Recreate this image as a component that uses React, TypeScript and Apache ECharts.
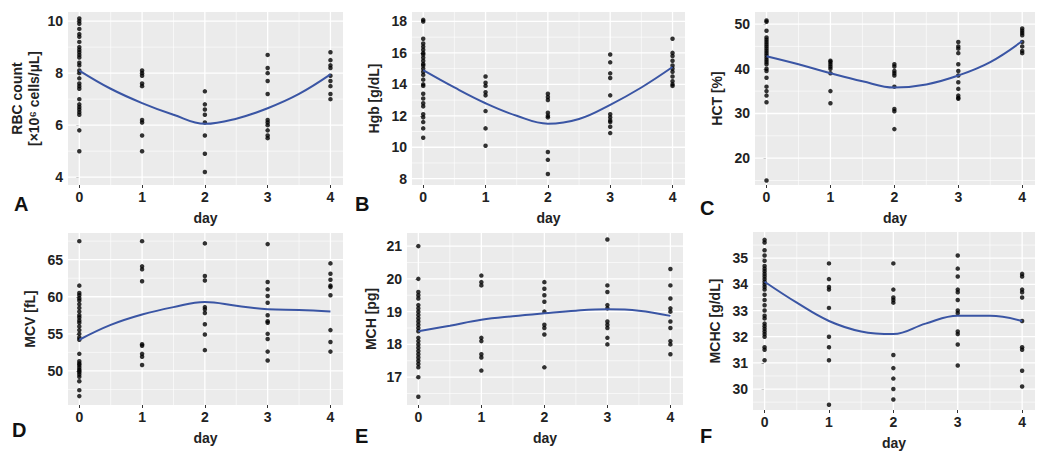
import * as echarts from 'echarts';
import React, { useEffect, useRef } from 'react';

const days = [0, 1, 2, 3, 4];
const curveDays = [0, 0.5, 1, 1.5, 2, 2.5, 3, 3.5, 4];

// A: RBC count
const rbc = [
  [10.1, 10.0, 9.9, 9.7, 9.5, 9.4, 9.2, 9.0, 8.9, 8.8, 8.7, 8.6, 8.4, 8.3, 8.1, 8.0, 7.8, 7.6, 7.5, 7.4, 7.0, 6.8, 6.7, 6.6, 6.5, 6.4, 5.8, 5.0],
  [8.1, 8.0, 7.9, 7.6, 7.5, 6.2, 6.1, 5.6, 5.0],
  [7.3, 6.8, 6.6, 6.4, 6.1, 5.6, 4.9, 4.2],
  [8.7, 8.2, 8.0, 7.7, 7.2, 6.2, 6.1, 6.0, 5.8, 5.6, 5.5],
  [8.8, 8.5, 8.3, 8.2, 7.9, 7.7, 7.5, 7.2, 7.0],
];
const rbcCurve = [8.1, 7.4, 6.85, 6.4, 6.05, 6.25, 6.65, 7.2, 7.95];

// B: Hgb
const hgb = [
  [18.1, 18.0, 16.9, 16.6, 16.4, 16.2, 16.0, 15.9, 15.7, 15.5, 15.3, 15.2, 15.0, 14.8, 14.6, 14.3, 14.0, 13.9, 13.4, 13.1, 12.8, 12.6, 12.1, 11.9, 11.6, 11.2, 10.6],
  [14.5, 14.1, 13.9, 13.5, 13.3, 12.3, 11.2, 10.1],
  [13.4, 13.2, 13.0, 12.2, 12.0, 11.9, 9.7, 9.2, 8.3],
  [15.9, 15.4, 14.7, 14.4, 13.3, 12.1, 11.9, 11.7, 11.6, 11.3, 10.9],
  [16.9, 16.0, 15.8, 15.5, 15.2, 15.0, 14.8, 14.5, 14.2, 14.0, 13.9],
];
const hgbCurve = [14.9, 13.8, 12.8, 12.0, 11.5, 11.8, 12.7, 13.8, 15.1];

// C: HCT
const hct = [
  [50.8, 50.5, 48.5, 47, 46.5, 46, 45.5, 45, 44.5, 44, 43.5, 43, 42.5, 42, 41.5, 41, 40, 39.5, 38, 36, 35, 34, 32.5, 15],
  [41.8, 41.5, 41, 40.5, 40, 39, 35, 32.3],
  [41, 40.5, 39.5, 39, 38.5, 36, 31, 30.5, 26.5],
  [46, 45, 44.5, 43.5, 41, 39.5, 38.5, 37, 35.5, 34, 33.5, 33.3],
  [49, 48.5, 48, 47.5, 46, 45, 44, 43.5],
];
const hctCurve = [42.8, 41.0, 39.0, 37.2, 35.8, 36.5, 38.5, 41.5, 46.2];

// D: MCV
const mcv = [
  [67.5, 61.5, 60.5, 60.2, 59.8, 59.5, 59, 58.5, 58, 57.5, 57.2, 56.8, 56.5, 56, 55.5, 55, 54.5, 54.2, 52.3, 51.3, 51, 50.8, 50.5, 50.2, 50, 49.8, 49.5, 49.2, 48.6, 47.4, 46.6],
  [67.5, 64.1, 63.7, 62.1, 53.6, 53.4, 52.3, 51.9, 50.8],
  [67.2, 62.8, 62.2, 58.6, 58.3, 57.8, 56.3, 54.9, 52.8],
  [67.1, 62, 61, 60.1, 59.2, 57.5, 56.7, 56.5, 55, 54.3, 52.6, 51.4],
  [64.5, 63.1, 62.3, 61.5, 61.3, 60.2, 55.5, 53.9, 52.6],
];
const mcvCurve = [54.2, 56.2, 57.6, 58.6, 59.3, 58.8, 58.3, 58.2, 58.0];

// E: MCH
const mch = [
  [21, 20, 19.6, 19.5, 19.4, 19.2, 19.1, 19.0, 18.9, 18.8, 18.7, 18.6, 18.5, 18.4, 18.2, 18.1, 18.0, 17.9, 17.8, 17.7, 17.6, 17.5, 17.4, 17.3, 17.0, 16.4],
  [20.1, 19.9, 19.8, 18.2, 18.1, 17.7, 17.6, 17.2],
  [19.9, 19.7, 19.5, 19.3, 19.0, 18.6, 18.5, 18.3, 17.3],
  [21.2, 19.8, 19.6, 19.2, 19.1, 18.7, 18.6, 18.5, 18.2, 18.0],
  [20.3, 19.8, 19.4, 19.1, 19.0, 18.7, 18.5, 18.1, 18.0, 17.7],
];
const mchCurve = [18.4, 18.57, 18.75, 18.86, 18.95, 19.03, 19.07, 19.03, 18.87];

// F: MCHC
const mchc = [
  [35.7, 35.6, 35.3, 35.1, 34.9, 34.7, 34.6, 34.5, 34.4, 34.3, 34.2, 34.1, 34.0, 33.9, 33.8, 33.6, 33.4, 33.2, 33.0, 32.8, 32.7, 32.5, 32.4, 32.3, 32.2, 32.1, 32.0, 31.6, 31.5, 31.1],
  [34.8, 34.2, 33.9, 33.8, 33.1, 32.0, 31.6, 31.1, 29.4],
  [34.8, 33.8, 33.5, 33.4, 33.3, 31.3, 30.8, 30.4, 30.0, 29.6],
  [35.1, 34.6, 34.3, 33.8, 33.7, 33.4, 33.0, 32.9, 32.2, 32.1, 31.7, 30.9],
  [34.4, 34.3, 33.8, 33.7, 33.5, 32.6, 31.6, 31.5, 30.7, 30.1],
];
const mchcCurve = [34.1, 33.3, 32.6, 32.2, 32.1, 32.5, 32.8, 32.8, 32.6];

const panels = [
  { letter: 'A', name: 'RBC count\n[×10⁶ cells/µL]', pts: rbc, curve: rbcCurve, ticks: [4, 6, 8, 10], min: 3.7, max: 10.35, grid: { left: 68, top: 12, width: 275, height: 173 }, gap: 26 },
  { letter: 'B', name: 'Hgb [g/dL]', pts: hgb, curve: hgbCurve, ticks: [8, 10, 12, 14, 16, 18], min: 7.6, max: 18.6, grid: { left: 412, top: 12, width: 273, height: 173 }, gap: 30 },
  { letter: 'C', name: 'HCT [%]', pts: hct, curve: hctCurve, ticks: [20, 30, 40, 50], min: 14, max: 52.7, grid: { left: 755, top: 12, width: 280, height: 173 }, gap: 30 },
  { letter: 'D', name: 'MCV [fL]', pts: mcv, curve: mcvCurve, ticks: [50, 55, 60, 65], min: 45.4, max: 68.6, grid: { left: 68, top: 233, width: 275, height: 172 }, gap: 30 },
  { letter: 'E', name: 'MCH [pg]', pts: mch, curve: mchCurve, ticks: [17, 18, 19, 20, 21], min: 16.15, max: 21.4, grid: { left: 407, top: 233, width: 276, height: 172 }, gap: 28 },
  { letter: 'F', name: 'MCHC [g/dL]', pts: mchc, curve: mchcCurve, ticks: [30, 31, 32, 33, 34, 35], min: 29.2, max: 36.0, grid: { left: 753, top: 232, width: 282, height: 178 }, gap: 30 },
];
const labelPos = [[14, 194], [355, 194], [700, 198], [12, 420], [355, 426], [700, 426]];
const X_MIN = -0.18;
const X_MAX = 4.2;

const App: React.FC = () => {
  const chartRef = useRef<HTMLDivElement>(null);
  useEffect(() => {
    document.body.style.margin = '0';
    if (!chartRef.current) return;
    const chart = echarts.init(chartRef.current, undefined, { renderer: 'svg' });

    const grids: any[] = [];
    const xAxes: any[] = [];
    const yAxes: any[] = [];
    const series: any[] = [];
    const labelStyle = { color: '#222', fontSize: 14, fontWeight: 'bold', fontFamily: 'Arial, sans-serif' };

    panels.forEach((p, i) => {
      grids.push({ ...p.grid, show: true, backgroundColor: '#EBEBEB', borderWidth: 0 });
      xAxes.push({
        type: 'value', gridIndex: i, min: X_MIN, max: X_MAX,
        name: 'day', nameLocation: 'middle', nameGap: 26,
        nameTextStyle: labelStyle,
        axisLine: { show: false }, splitLine: { show: false },
        axisTick: { show: true, length: 3, lineStyle: { color: '#333' }, customValues: days },
        axisLabel: { ...labelStyle, margin: 5, customValues: days },
      });
      yAxes.push({
        type: 'value', gridIndex: i, min: p.min, max: p.max,
        name: p.name, nameLocation: 'middle', nameGap: p.gap,
        nameTextStyle: { ...labelStyle, lineHeight: 17 },
        axisLine: { show: false }, splitLine: { show: false },
        axisTick: { show: true, length: 3, lineStyle: { color: '#333' }, customValues: p.ticks },
        axisLabel: { ...labelStyle, margin: 5, customValues: p.ticks },
      });

      // ggplot-style white grid lines (major + minor), drawn as line series
      const minors: number[] = [];
      const step = p.ticks[1] - p.ticks[0];
      for (let v = p.ticks[0] - step / 2; v < p.max; v += step) if (v > p.min) minors.push(v);
      const addLine = (data: number[][], w: number) =>
        series.push({
          type: 'line', xAxisIndex: i, yAxisIndex: i, silent: true, showSymbol: false, z: 1,
          lineStyle: { color: '#fff', width: w }, data,
        });
      p.ticks.forEach((v) => addLine([[X_MIN, v], [X_MAX, v]], 1.3));
      minors.forEach((v) => addLine([[X_MIN, v], [X_MAX, v]], 0.6));
      days.forEach((d) => addLine([[d, p.min], [d, p.max]], 1.3));
      days.slice(0, 4).forEach((d) => addLine([[d + 0.5, p.min], [d + 0.5, p.max]], 0.6));

      series.push({
        type: 'scatter', xAxisIndex: i, yAxisIndex: i, symbolSize: 4.5,
        itemStyle: { color: '#000' }, z: 3,
        data: p.pts.flatMap((vals, d) => vals.map((v) => [days[d], v])),
      });
      series.push({
        type: 'line', xAxisIndex: i, yAxisIndex: i, smooth: 0.4, showSymbol: false, z: 4,
        lineStyle: { color: '#3A55A4', width: 2 },
        data: p.curve.map((v, k) => [curveDays[k], v]),
      });
    });

    const option: any = {
      animation: false,
      grid: grids,
      xAxis: xAxes,
      yAxis: yAxes,
      series,
      graphic: panels.map((p, i) => ({
        type: 'text', left: labelPos[i][0], top: labelPos[i][1],
        style: { text: p.letter, fill: '#111', font: 'bold 20px Arial, sans-serif' },
      })),
    };
    chart.setOption(option);
    return () => chart.dispose();
  }, []);

  return <div ref={chartRef} style={{ width: '1039px', height: '455px' }} />;
};

export default App;
